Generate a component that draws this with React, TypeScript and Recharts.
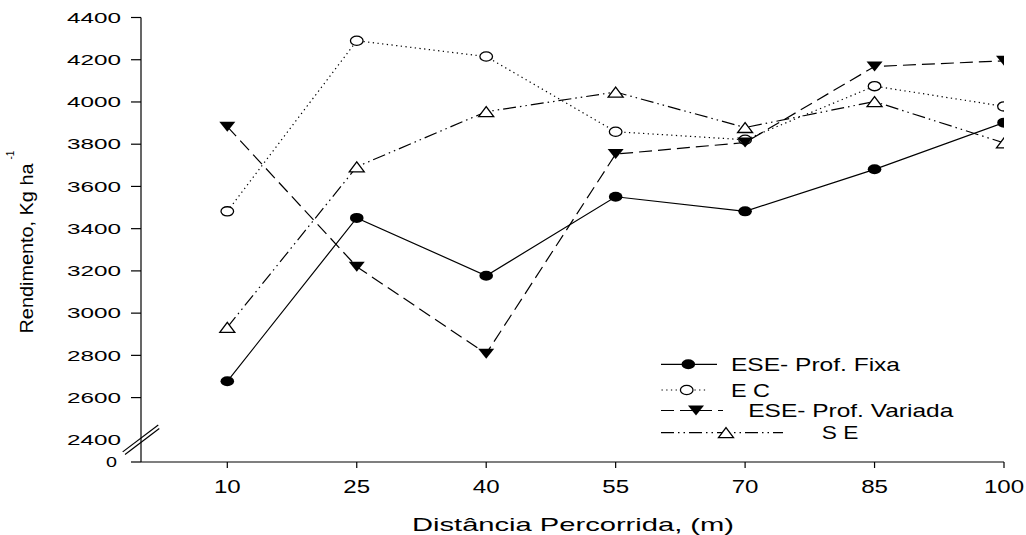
import React from 'react';
import { LineChart, Line, XAxis, YAxis, Legend, ReferenceLine } from 'recharts';

const distances = [10, 25, 40, 55, 70, 85, 100];
const eseFixa = [2677, 3451, 3177, 3551, 3482, 3681, 3902];
const ec = [3482, 4290, 4215, 3859, 3821, 4075, 3979];
const eseVariada = [3883, 3220, 2808, 3753, 3808, 4168, 4195];
const se = [2933, 3693, 3954, 4047, 3879, 4002, 3806];

const yBase = 2295; // axis origin shown as "0" below the break
const yTicks = [2295, 2400, 2600, 2800, 3000, 3200, 3400, 3600, 3800, 4000, 4200, 4400];
const yTickLabels = ['0', '2400', '2600', '2800', '3000', '3200', '3400', '3600', '3800', '4000', '4200', '4400'];
const xTickLabels = ['10', '25', '40', '55', '70', '85', '100'];

const seriesNames = ['ESE- Prof. Fixa', 'E C', 'ESE- Prof. Variada', 'S E'];
const xTitle = 'Distância Percorrida, (m)';
const yTitle = 'Rendimento, Kg ha';

// axis break marks in data units
const breakA = [{ x: -2.12, y: 2343 }, { x: 2.0, y: 2470 }];
const breakB = [{ x: -1.85, y: 2331 }, { x: 2.12, y: 2454 }];

const data = distances.map((d, i) => ({
  distance: d,
  fixa: eseFixa[i],
  ec: ec[i],
  variada: eseVariada[i],
  se: se[i],
}));

const FONT = '"Liberation Sans", Arial, Helvetica, sans-serif';

const dash = {
  fixa: undefined as string | undefined,
  ec: '1.3 3.4',
  variada: '13 6',
  se: '13 4 1.5 4 1.5 4',
};

function Marker({ kind, cx, cy }: { kind: string; cx: number; cy: number }) {
  if (kind === 'fixa') return <ellipse cx={cx} cy={cy} rx={6.8} ry={5} fill="#000" />;
  if (kind === 'ec') return <ellipse cx={cx} cy={cy} rx={6.3} ry={4.6} fill="#fff" stroke="#000" strokeWidth={1.3} />;
  if (kind === 'variada')
    return <polygon points={`${cx - 8},${cy - 5} ${cx + 8},${cy - 5} ${cx},${cy + 5}`} fill="#000" />;
  return (
    <polygon
      points={`${cx - 7.5},${cy + 5} ${cx + 7.5},${cy + 5} ${cx},${cy - 5}`}
      fill="#fff"
      stroke="#000"
      strokeWidth={1.3}
    />
  );
}

const makeDot = (kind: string) => (props: any) => {
  const { cx, cy, index } = props;
  if (cx == null || cy == null) return <g key={`${kind}-${index}`} />;
  return (
    <g key={`${kind}-${index}`}>
      <Marker kind={kind} cx={cx} cy={cy} />
    </g>
  );
};

const YTick = (props: any) => {
  const { x, y, payload } = props;
  const idx = yTicks.indexOf(payload.value);
  const label = idx >= 0 ? yTickLabels[idx] : String(payload.value);
  const showLine = payload.value !== 2400;
  const single = label.length === 1;
  return (
    <g>
      {showLine && <line x1={x - 10} y1={y} x2={x} y2={y} stroke="#000" strokeWidth={1.2} />}
      <text
        x={single ? x - 24 : x - 20}
        y={y + 5.3}
        textAnchor="end"
        fontSize={15}
        fontFamily={FONT}
        fill="#000"
        textLength={single ? 11 : 13.5 * label.length}
        lengthAdjust="spacingAndGlyphs"
      >
        {label}
      </text>
    </g>
  );
};

const XTick = (props: any) => {
  const { x, y, payload } = props;
  const idx = distances.indexOf(payload.value);
  const label = idx >= 0 ? xTickLabels[idx] : String(payload.value);
  return (
    <g>
      <line x1={x} y1={y} x2={x} y2={y + 6} stroke="#000" strokeWidth={1.2} />
      <text
        x={x}
        y={y + 31}
        textAnchor="middle"
        fontSize={18.6}
        fontFamily={FONT}
        fill="#000"
        textLength={13.4 * label.length}
        lengthAdjust="spacingAndGlyphs"
      >
        {label}
      </text>
    </g>
  );
};

const XTitle = (props: any) => {
  const vb = props.viewBox || { x: 141, y: 462, width: 863, height: 73 };
  return (
    <text
      x={vb.x + vb.width / 2 + 0.5}
      y={vb.y + 69}
      textAnchor="middle"
      fontSize={18.6}
      fontFamily={FONT}
      fill="#000"
      textLength={322}
      lengthAdjust="spacingAndGlyphs"
    >
      {xTitle}
    </text>
  );
};

const YTitle = (props: any) => {
  const vb = props.viewBox || { x: 0, y: 17.5, width: 141, height: 444 };
  const bx = vb.x + 33;
  const by = vb.y + vb.height - 128.5;
  const sx = vb.x + 14;
  const sy = by - 174;
  return (
    <g>
      <text
        x={bx}
        y={by}
        transform={`rotate(-90 ${bx} ${by})`}
        textAnchor="start"
        fontSize={17.5}
        fontFamily={FONT}
        fill="#000"
        textLength={170}
        lengthAdjust="spacingAndGlyphs"
      >
        {yTitle}
      </text>
      <text
        x={sx}
        y={sy}
        transform={`rotate(-90 ${sx} ${sy})`}
        textAnchor="start"
        fontSize={10}
        fontFamily={FONT}
        fill="#000"
      >
        -1
      </text>
    </g>
  );
};

const legendRows = [
  { kind: 'fixa', name: seriesNames[0], y: 14.3, l0: 11, l1: 67, m: 38.3, tx: 81, tw: 169 },
  { kind: 'ec', name: seriesNames[1], y: 40, l0: 11.5, l1: 57, m: 36.7, tx: 81, tw: 39 },
  { kind: 'variada', name: seriesNames[2], y: 60.5, l0: 11, l1: 73, m: 46, tx: 98.3, tw: 205 },
  { kind: 'se', name: seriesNames[3], y: 82.7, l0: 11, l1: 133, m: 76, tx: 171.7, tw: 36.6 },
];

const LegendContent = () => (
  <svg width={330} height={95} style={{ display: 'block', overflow: 'visible' }}>
    {legendRows.map((r) => (
      <g key={r.kind}>
        <line
          x1={r.l0}
          y1={r.y}
          x2={r.l1}
          y2={r.y}
          stroke="#000"
          strokeWidth={1.2}
          strokeDasharray={(dash as any)[r.kind]}
        />
        <Marker kind={r.kind} cx={r.m} cy={r.y} />
        <text
          x={r.tx}
          y={r.y + 6.6}
          fontSize={18.6}
          fontFamily={FONT}
          fill="#000"
          textLength={r.tw}
          lengthAdjust="spacingAndGlyphs"
        >
          {r.name}
        </text>
      </g>
    ))}
  </svg>
);

export default function App() {
  return (
    <div style={{ position: 'absolute', left: 0, top: 0, width: 1026, height: 535, background: '#fff' }}>
      <LineChart width={1026} height={535} data={data} margin={{ top: 17.5, right: 22, bottom: 0, left: 0 }}>
        <XAxis
          type="number"
          dataKey="distance"
          domain={[0, 100]}
          ticks={distances}
          allowDataOverflow
          height={73}
          tickSize={0}
          tickMargin={0}
          tickLine={false}
          tick={<XTick />}
          axisLine={{ stroke: '#000', strokeWidth: 1.2 }}
          label={<XTitle />}
        />
        <YAxis
          type="number"
          domain={[yBase, 4400]}
          ticks={yTicks}
          allowDataOverflow
          width={141}
          tickSize={0}
          tickMargin={0}
          tickLine={false}
          tick={<YTick />}
          axisLine={{ stroke: '#000', strokeWidth: 1.2 }}
          label={<YTitle />}
          interval={0}
        />
        <ReferenceLine segment={breakA} stroke="#000" strokeWidth={1.2} ifOverflow="visible" />
        <ReferenceLine segment={breakB} stroke="#000" strokeWidth={1.2} ifOverflow="visible" />
        <Line
          dataKey="fixa"
          name={seriesNames[0]}
          stroke="#000"
          strokeWidth={1.2}
          dot={makeDot('fixa')}
          activeDot={false}
          isAnimationActive={false}
        />
        <Line
          dataKey="ec"
          name={seriesNames[1]}
          stroke="#000"
          strokeWidth={1.2}
          strokeDasharray={dash.ec}
          dot={makeDot('ec')}
          activeDot={false}
          isAnimationActive={false}
        />
        <Line
          dataKey="variada"
          name={seriesNames[2]}
          stroke="#000"
          strokeWidth={1.2}
          strokeDasharray={dash.variada}
          dot={makeDot('variada')}
          activeDot={false}
          isAnimationActive={false}
        />
        <Line
          dataKey="se"
          name={seriesNames[3]}
          stroke="#000"
          strokeWidth={1.2}
          strokeDasharray={dash.se}
          dot={makeDot('se')}
          activeDot={false}
          isAnimationActive={false}
        />
        <Legend
          layout="horizontal"
          verticalAlign="middle"
          align="center"
          content={<LegendContent />}
          wrapperStyle={{ position: 'absolute', left: 650, top: 350, width: 330, height: 95, margin: 0, padding: 0 }}
        />
      </LineChart>
    </div>
  );
}
